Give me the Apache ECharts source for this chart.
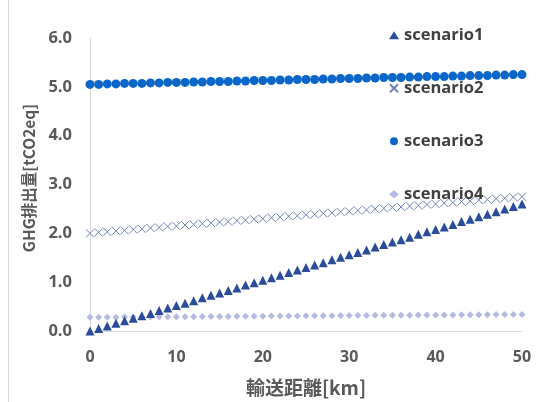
<!DOCTYPE html>
<html>
<head>
<meta charset="utf-8">
<script src="https://cdn.jsdelivr.net/npm/echarts@6/dist/echarts.min.js"></script>
<style>
  html, body { margin: 0; padding: 0; background: #fff; }
  #chart { width: 542px; height: 402px; }
</style>
</head>
<body>
<div id="chart"></div>
<script>
// Transport distance [km], one point per kilometre
const distanceKm = [0,1,2,3,4,5,6,7,8,9,10,11,12,13,14,15,16,17,18,19,20,21,22,23,24,25,
  26,27,28,29,30,31,32,33,34,35,36,37,38,39,40,41,42,43,44,45,46,47,48,49,50];

// GHG emissions [tCO2eq] per scenario
const scenario1 = [0.00,0.05,0.10,0.16,0.21,0.26,0.31,0.36,0.42,0.47,0.52,0.57,0.62,0.68,0.73,
  0.78,0.83,0.88,0.94,0.99,1.04,1.09,1.14,1.20,1.25,1.30,1.35,1.40,1.46,1.51,1.56,1.61,1.66,
  1.72,1.77,1.82,1.87,1.92,1.98,2.03,2.08,2.13,2.18,2.24,2.29,2.34,2.39,2.44,2.50,2.55,2.60];
const scenario2 = [2.00,2.02,2.03,2.05,2.06,2.08,2.09,2.11,2.12,2.14,2.15,2.17,2.18,2.20,2.21,
  2.23,2.24,2.26,2.27,2.29,2.30,2.32,2.33,2.35,2.36,2.38,2.39,2.41,2.42,2.44,2.45,2.47,2.48,
  2.50,2.51,2.53,2.54,2.56,2.57,2.59,2.60,2.62,2.63,2.65,2.66,2.68,2.69,2.71,2.72,2.74,2.75];
const scenario3 = [5.05,5.05,5.06,5.06,5.07,5.07,5.07,5.08,5.08,5.09,5.09,5.09,5.10,5.10,5.11,
  5.11,5.11,5.12,5.12,5.13,5.13,5.13,5.14,5.14,5.15,5.15,5.15,5.16,5.16,5.17,5.17,5.17,5.18,
  5.18,5.19,5.19,5.19,5.20,5.20,5.21,5.21,5.21,5.22,5.22,5.23,5.23,5.23,5.24,5.24,5.25,5.25];
const scenario4 = [0.280,0.281,0.282,0.284,0.285,0.286,0.287,0.288,0.290,0.291,0.292,0.293,0.294,
  0.296,0.297,0.298,0.299,0.300,0.302,0.303,0.304,0.305,0.306,0.308,0.309,0.310,0.311,0.312,
  0.314,0.315,0.316,0.317,0.318,0.320,0.321,0.322,0.323,0.324,0.326,0.327,0.328,0.329,0.330,
  0.332,0.333,0.334,0.335,0.336,0.338,0.339,0.340];

const seriesNames = ['scenario1', 'scenario2', 'scenario3', 'scenario4'];
const yTicks = [0, 1, 2, 3, 4, 5, 6];
const xTicks = [0, 10, 20, 30, 40, 50];

const pairs = arr => distanceKm.map((d, i) => [d, arr[i]]);

const FONT = '"Open Sans", "Noto Sans CJK JP", sans-serif';
const CJK_FONT = '"Noto Sans CJK JP", "Open Sans", sans-serif';
const CROSS = 'path://M0,0L10,10M10,0L0,10';
const GREY = '#595959';

const chart = echarts.init(document.getElementById('chart'));
chart.setOption({
  animation: false,
  backgroundColor: '#ffffff',
  textStyle: { fontFamily: FONT },
  graphic: [{
    type: 'line',
    shape: { x1: 8.5, y1: 0, x2: 8.5, y2: 402 },
    style: { stroke: '#d9d9d9', lineWidth: 1 }
  }],
  grid: { left: 90, right: 20, top: 38, bottom: 69 },
  legend: {
    orient: 'vertical',
    left: 384,
    top: 22,
    itemGap: 36.5,
    itemWidth: 10,
    itemHeight: 8,
    data: seriesNames,
    textStyle: { color: '#404040', fontSize: 16.5, fontWeight: 'bold', fontFamily: FONT }
  },
  xAxis: {
    type: 'value',
    min: xTicks[0],
    max: xTicks[xTicks.length - 1],
    interval: 10,
    name: '輸送距離[km]',
    nameLocation: 'middle',
    nameGap: 47,
    nameTextStyle: { color: GREY, fontSize: 19, fontWeight: 'bold', fontFamily: CJK_FONT },
    axisLine: { show: true, lineStyle: { color: '#d9d9d9' } },
    axisTick: { show: false },
    splitLine: { show: false },
    axisLabel: { color: GREY, fontSize: 16, fontWeight: 'bold', margin: 18 }
  },
  yAxis: {
    type: 'value',
    min: yTicks[0],
    max: yTicks[yTicks.length - 1],
    interval: 1,
    name: 'GHG排出量[tCO2eq]',
    nameLocation: 'middle',
    nameGap: 53,
    nameTextStyle: {
      color: GREY, fontSize: 15.5, fontWeight: 'bold', fontFamily: CJK_FONT,
      padding: [0, 0, 0, 13]
    },
    axisLine: { show: true, lineStyle: { color: '#d9d9d9' } },
    axisTick: { show: false },
    splitLine: { show: false },
    axisLabel: {
      color: GREY, fontSize: 16.5, fontWeight: 'bold', margin: 18,
      formatter: v => v.toFixed(1)
    }
  },
  series: [
    {
      name: seriesNames[0], type: 'scatter', data: pairs(scenario1),
      symbol: 'triangle', symbolSize: [9, 9],
      itemStyle: { color: '#2b4c9b', opacity: 1 }, z: 4
    },
    {
      name: seriesNames[1], type: 'scatter', data: pairs(scenario2),
      symbol: CROSS, symbolSize: 8,
      itemStyle: { color: 'rgba(0,0,0,0)', borderColor: '#6f80b9', borderWidth: 1, opacity: 1 }, z: 3
    },
    {
      name: seriesNames[2], type: 'scatter', data: pairs(scenario3),
      symbol: 'circle', symbolSize: 9,
      itemStyle: { color: '#0a66c8', opacity: 1 }, z: 3
    },
    {
      name: seriesNames[3], type: 'scatter', data: pairs(scenario4),
      symbol: 'diamond', symbolSize: 7,
      itemStyle: { color: '#b5bae2', opacity: 1 }, z: 2
    }
  ]
});
</script>
</body>
</html>
